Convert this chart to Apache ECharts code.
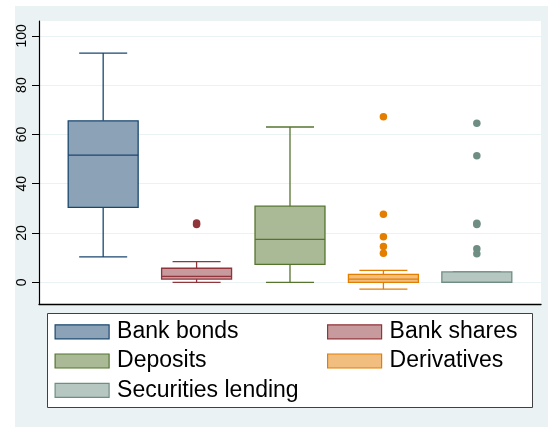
<!DOCTYPE html>
<html>
<head>
<meta charset="utf-8">
<script src="https://cdn.jsdelivr.net/npm/echarts@6/dist/echarts.min.js"></script>
<style>
  html, body { margin: 0; padding: 0; background: #ffffff; }
  #chart { width: 548px; height: 427px; }
</style>
</head>
<body>
<div id="chart"></div>
<script>
// Distribution of shares by instrument (percent)
const categories = ['Bank bonds', 'Bank shares', 'Deposits', 'Derivatives', 'Securities lending'];
const lowerWhisker = [10.3, 0.0, 0.0, -2.8, 0.0];
const q1 = [30.4, 1.3, 7.3, 0.0, 0.0];
const median = [51.6, 2.4, 17.4, 1.3, 0.0];
const q3 = [65.5, 5.7, 30.9, 3.2, 4.2];
const upperWhisker = [93.0, 8.4, 63.0, 4.8, 4.2];
const outliers = [
  [],
  [23.4, 24.1],
  [],
  [67.2, 27.6, 18.5, 14.5, 11.8],
  [64.5, 51.3, 24.0, 23.5, 13.6, 11.6]
];
const yTicks = [0, 20, 40, 60, 80, 100];

// Stata s2color palette: outline colours and 50% fills
const lineColors = ['#1a476f', '#90353b', '#55752f', '#e37e00', '#6e8e84'];
const fillColors = ['#8ca3b7', '#c79a9d', '#aaba97', '#f1be7f', '#b6c6c1'];
const FONT = '"Liberation Sans", Arial, Helvetica, sans-serif';

function renderBox(i) {
  return function (params, api) {
    const x = api.value(0);
    const lo = api.value(1), b1 = api.value(2), md = api.value(3), b3 = api.value(4), hi = api.value(5);
    const half = 0.3745;   // half box width, axis units
    const cap = 0.257;     // half whisker-cap width, axis units
    const stroke = lineColors[i];
    const lw = 1.3;
    const y = v => api.coord([x, v])[1];
    const cx = api.coord([x, 0])[0];
    const left = api.coord([x - half, 0])[0];
    const right = api.coord([x + half, 0])[0];
    const capL = api.coord([x - cap, 0])[0];
    const capR = api.coord([x + cap, 0])[0];
    const line = (x1, y1, x2, y2) => ({
      type: 'line', shape: { x1, y1, x2, y2 }, style: { stroke, lineWidth: lw, fill: null }
    });
    return {
      type: 'group',
      children: [
        line(cx, y(b3), cx, y(hi)),
        line(cx, y(lo), cx, y(b1)),
        line(capL, y(hi), capR, y(hi)),
        line(capL, y(lo), capR, y(lo)),
        {
          type: 'rect',
          shape: { x: left, y: y(b3), width: right - left, height: y(b1) - y(b3) },
          style: { fill: fillColors[i], stroke, lineWidth: lw }
        },
        line(left, y(md), right, y(md))
      ]
    };
  };
}

const series = [];
categories.forEach((name, i) => {
  series.push({
    type: 'custom',
    name,
    data: [[i, lowerWhisker[i], q1[i], median[i], q3[i], upperWhisker[i]]],
    encode: { x: 0, y: [1, 2, 3, 4, 5] },
    renderItem: renderBox(i),
    itemStyle: { color: fillColors[i], borderColor: lineColors[i] },
    silent: true,
    z: 2
  });
  if (outliers[i].length) {
    series.push({
      type: 'scatter',
      name,
      data: outliers[i].map(v => [i, v]),
      symbol: 'circle',
      symbolSize: 7.5,
      itemStyle: { color: lineColors[i], opacity: 1 },
      silent: true,
      z: 3
    });
  }
});

// legend slots: [left of swatch, vertical centre of row]
const legendSlots = [[54.5, 331.8], [327, 331.8], [54.5, 361], [327, 361], [54.5, 390.3]];

const chart = echarts.init(document.getElementById('chart'), null, { renderer: 'canvas' });
chart.setOption({
  animation: false,
  backgroundColor: '#ffffff',
  grid: {
    left: 39, right: 7, top: 21, bottom: 123,
    show: true, backgroundColor: '#ffffff', borderWidth: 0
  },
  xAxis: {
    type: 'value',
    min: -0.687, max: 4.687,
    axisLine: { show: true, onZero: false, lineStyle: { color: '#000000', width: 1.3 } },
    axisTick: { show: false },
    axisLabel: { show: false },
    splitLine: { show: false }
  },
  yAxis: {
    type: 'value',
    min: -8.8, max: 106,
    axisLine: { show: true, onZero: false, lineStyle: { color: '#000000', width: 1.2 } },
    axisTick: { show: true, length: 7, customValues: yTicks, lineStyle: { color: '#000000', width: 1 } },
    axisLabel: {
      customValues: yTicks, rotate: 90, margin: 10,
      fontSize: 14, color: '#000000', fontFamily: FONT
    },
    splitLine: { show: true, lineStyle: { color: '#eaf2f3', width: 1 } }
  },
  legend: categories.map((name, i) => ({
    left: legendSlots[i][0],
    top: legendSlots[i][1] - 11.5,
    orient: 'horizontal',
    padding: 0,
    itemWidth: 54,
    itemHeight: 14,
    selectedMode: false,
    data: [{
      name,
      icon: 'rect',
      itemStyle: { color: fillColors[i], borderColor: lineColors[i], borderWidth: 1.2 }
    }],
    textStyle: {
      fontSize: 23, lineHeight: 23, color: '#000000', fontFamily: FONT,
      padding: [0, 0, 0, 3]
    }
  })),
  graphic: [
    {
      type: 'rect', z: -100, silent: true,
      shape: { x: 15, y: 6, width: 533, height: 421 },
      style: { fill: '#eaf2f3' }
    },
    {
      type: 'rect', z: 1, silent: true,
      shape: { x: 47.5, y: 313.5, width: 485, height: 94 },
      style: { fill: '#ffffff', stroke: '#404040', lineWidth: 1 }
    }
  ],
  series
});
</script>
</body>
</html>
